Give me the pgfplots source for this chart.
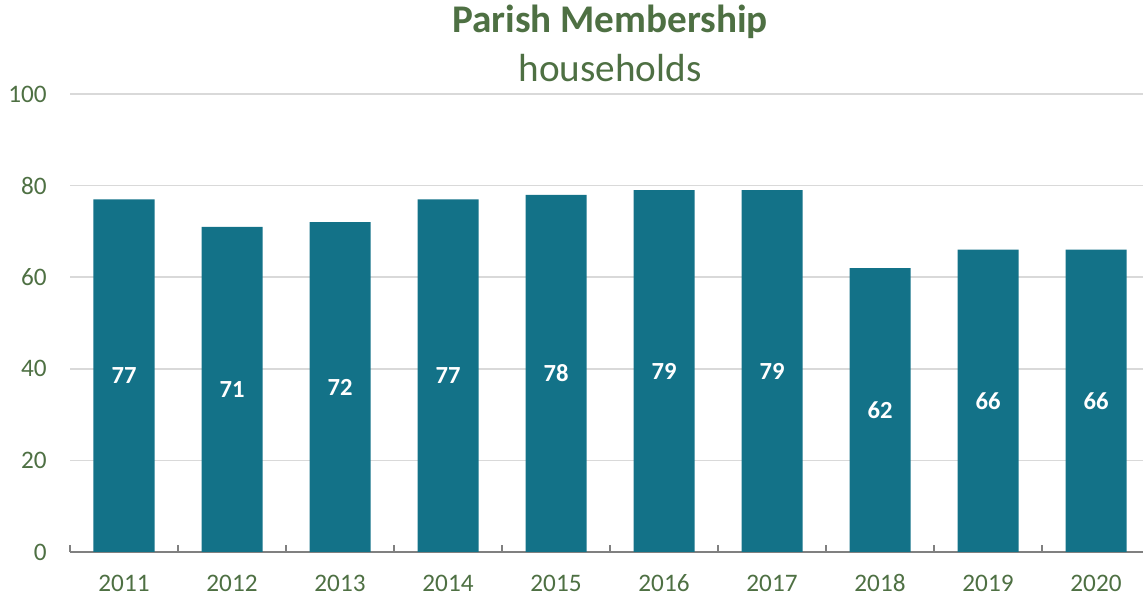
\documentclass[border=0pt]{standalone}
\usepackage{pgfplots}
\pgfplotsset{compat=1.18}
\usepackage{fontspec}
\setmainfont{Carlito}
\definecolor{barc}{HTML}{137288}
\definecolor{grn}{HTML}{4E7043}
\definecolor{gridc}{HTML}{D9D9D9}
\definecolor{axc}{HTML}{808080}
\begin{document}
\begin{tikzpicture}
\path[use as bounding box] (-35pt,-23pt) rectangle (536.5pt,276pt);
\begin{axis}[
  at={(0,0)}, anchor=south west,
  scale only axis, width=540pt, height=229pt,
  xmin=-0.5, xmax=9.5, ymin=0, ymax=100,
  ybar, bar width=30.5pt, bar shift=0pt,
  axis x line*=bottom, axis y line*=left,
  y axis line style={draw=none},
  x axis line style={draw=axc, line width=1pt},
  xtick={0,...,9},
  xticklabels={2011,2012,2013,2014,2015,2016,2017,2018,2019,2020},
  minor xtick={-0.5,0.5,...,9.5},
  minor x tick style={draw=axc, line width=1pt},
  minor tick length=3.5pt,
  tick align=inside,
  major tick length=0pt,
  ytick={0,20,...,100},
  ymajorgrids, grid style={gridc, line width=0.8pt},
  ticklabel style={font=\fontsize{12.6}{14}\selectfont, text=grn},
  xticklabel style={anchor=center, yshift=-15.5pt},
  yticklabel style={anchor=east, inner sep=0pt, xshift=-11.5pt},
  /pgf/number format/assume math mode=true,
  nodes near coords,
  visualization depends on={rawy \as \rawy},
  every node near coord/.append style={anchor=center, text=white,
     font=\fontsize{12.3}{14}\selectfont\bfseries,
     shift={(axis direction cs:0,-\rawy/2)}},
  clip=false,
]
\addplot[fill=barc, draw=none] coordinates {
(0,77) (1,71) (2,72) (3,77) (4,78) (5,79) (6,79) (7,62) (8,66) (9,66)};
\node[text=grn, font=\fontsize{19.6}{22}\selectfont\bfseries] at ([yshift=36pt]rel axis cs:0.5,1) {Parish Membership};
\node[text=grn, font=\fontsize{19.6}{22}\selectfont] at ([yshift=13pt]rel axis cs:0.5,1) {households};
\end{axis}
\end{tikzpicture}
\end{document}
